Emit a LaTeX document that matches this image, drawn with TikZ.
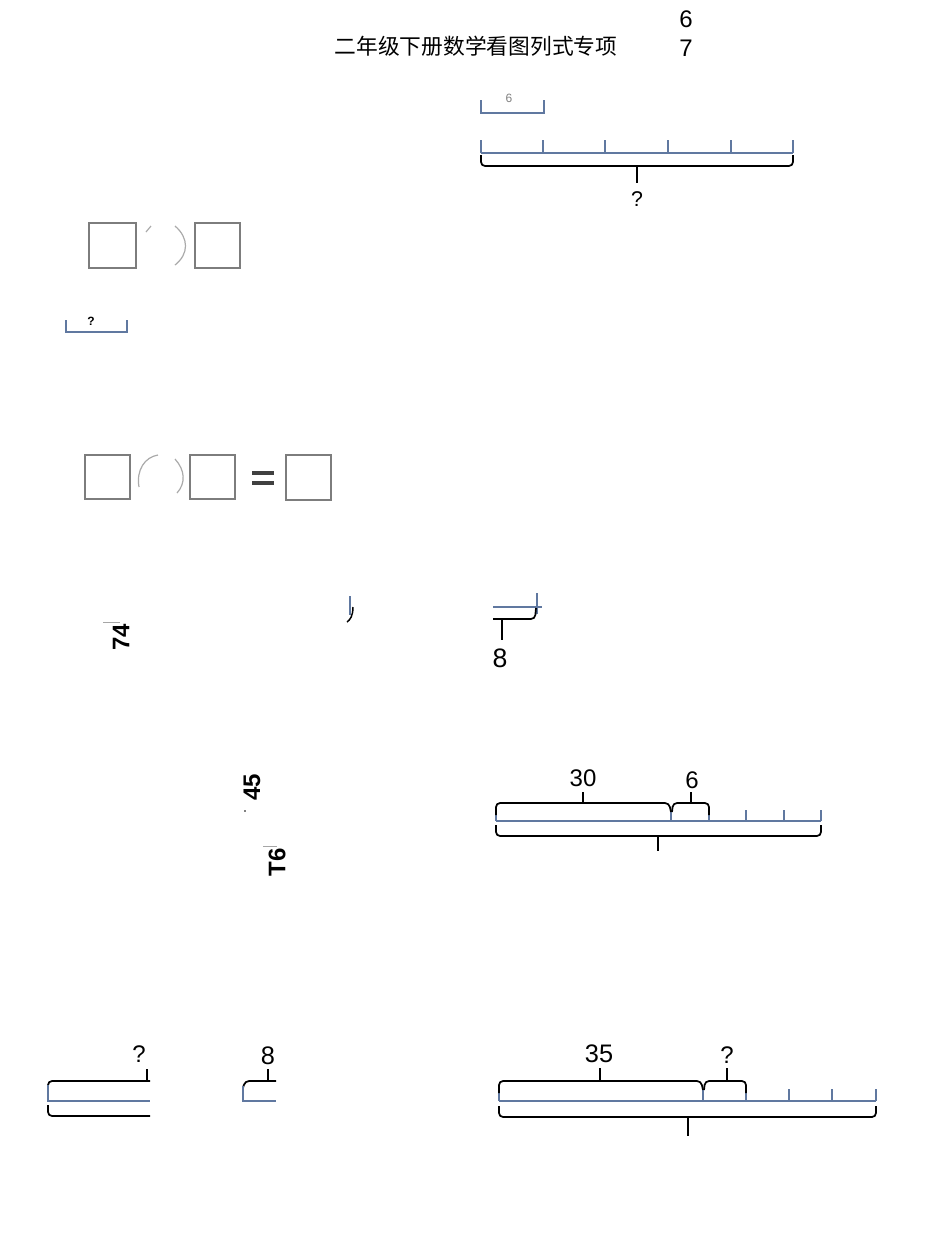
\documentclass[tikz,border=0pt]{standalone}
\usepackage{fontspec}
\setmainfont{Liberation Sans}
\newfontfamily\cjk{Noto Sans CJK SC}
\definecolor{barblue}{RGB}{96,120,160}
\definecolor{boxgrey}{RGB}{125,125,125}
\definecolor{arcgrey}{RGB}{170,170,170}
\begin{document}
\begin{tikzpicture}[x=0.75pt,y=-0.75pt,
  bar/.style={draw=barblue,line width=1.3pt},
  brace/.style={draw=black,line width=1.3pt,rounded corners=3pt},
  box/.style={draw=boxgrey,line width=1pt},
  arcline/.style={draw=arcgrey,line width=0.9pt},
  lbl/.style={font=\fontsize{18}{18}\selectfont,inner sep=0pt},
  rot/.style={font=\bfseries\fontsize{18}{18}\selectfont,inner sep=0pt,rotate=90}]
\useasboundingbox[fill=white] (0,0) rectangle (950,1239);

% header
\node[font=\cjk\fontsize{16.3}{16.3}\selectfont,inner sep=0pt] (title) at (476,46) {二年级下册数学看图列式专项};
\node[lbl,font=\fontsize{18}{18}\selectfont] (six) at (686,19) {6};
\node[lbl,font=\fontsize{18}{18}\selectfont] (seven) at (686,48) {7};

% diagram 1
\draw[bar,line width=1.1pt] (481,100) -- (481,113) -- (544,113) -- (544,100);
\node[inner sep=0pt,text=gray,font=\fontsize{9}{9}\selectfont] (l6) at (509,98) {6};
\draw[bar] (481,153) -- (793,153);
\foreach \x in {481,543,605,668,731,793} \draw[bar] (\x,140) -- (\x,153);
\draw[brace] (481,155) -- (481,166) -- (793,166) -- (793,155);
\draw[brace,rounded corners=0pt] (637,166) -- (637,183);
\node[lbl,font=\fontsize{16}{16}\selectfont] (q1) at (637,199) {?};

% equation row 1
\draw[box] (89,223) rectangle (136,268);
\draw[arcline] (146,232) -- (151,226);
\draw[arcline] (175,226) .. controls (189,238) and (189,254) .. (175,265);
\draw[box] (195,223) rectangle (240,268);

% small bracket ?
\draw[bar,line width=1.1pt] (66,320) -- (66,332) -- (127,332) -- (127,320);
\node[inner sep=0pt,font=\bfseries\fontsize{9}{9}\selectfont] (q2) at (91,321) {?};

% equation row 2
\draw[box] (85,455) rectangle (130,499);
\draw[arcline] (139,487) .. controls (136,470) and (145,457) .. (158,455);
\draw[arcline] (175,459) .. controls (185,470) and (186,483) .. (177,493);
\draw[box] (190,455) rectangle (235,499);
\draw[line width=3pt,draw=black!75] (252,472.5) -- (274,472.5) (252,482.5) -- (274,482.5);
\draw[box] (286,455) rectangle (331,500);

% fragments row 3
\draw[draw=gray!70,line width=0.6pt] (103,622) -- (120,622);
\node[rot] (n74) at (121,637) {74};
\draw[bar,line width=1.1pt] (350,596) -- (350,615);
\draw[brace,line width=1.1pt] (353,607) .. controls (353,616) and (350,620) .. (347,622);
\draw[bar] (493,607) -- (542,607);
\draw[bar] (537,593) -- (537,614);
\draw[brace] (493,619) -- (535,619) -- (536,608);
\draw[brace,rounded corners=0pt] (502,619) -- (502,640);
\node[lbl,font=\fontsize{20}{20}\selectfont] (l8a) at (500,658) {8};

% fragments row 4
\node[rot] (n45) at (252,787) {45};
\fill (245,811) circle (0.9);
\draw[draw=gray!70,line width=0.6pt] (263,846) -- (277,846);
\node[rot] (nT6) at (277,862) {T6};

% diagram 30 / 6
\draw[bar] (496,821) -- (821,821);
\foreach \x in {496,671,709,746,784,821} \draw[bar] (\x,810) -- (\x,821);
\draw[brace] (496,815) -- (496,803) -- (669,803) -- (671,812);
\draw[brace] (672,812) -- (673,803) -- (709,803) -- (709,815);
\draw[brace,rounded corners=0pt] (583,803) -- (583,792);
\draw[brace,rounded corners=0pt] (691,803) -- (691,792);
\node[lbl] (l30) at (583,778) {30};
\node[lbl] (l6b) at (692,780) {6};
\draw[brace] (496,825) -- (496,836) -- (821,836) -- (821,825);
\draw[brace,rounded corners=0pt] (658,836) -- (658,851);

% bottom left fragments
\draw[brace] (48,1089) -- (48,1081) -- (150,1081);
\draw[brace,rounded corners=0pt] (147,1081) -- (147,1069);
\node[lbl] (q3) at (139,1054) {?};
\draw[bar] (48,1085) -- (48,1101) -- (150,1101);
\draw[brace] (48,1105) -- (48,1116) -- (150,1116);
\draw[brace] (243,1088) -- (245,1081) -- (276,1081);
\draw[brace,rounded corners=0pt] (268,1081) -- (268,1069);
\node[lbl,font=\fontsize{19}{19}\selectfont] (l8b) at (268,1056) {8};
\draw[bar] (243,1086) -- (243,1101) -- (276,1101);

% diagram 35 / ?
\draw[bar] (499,1101) -- (876,1101);
\foreach \x in {499,703,746,789,832,876} \draw[bar] (\x,1089) -- (\x,1101);
\draw[brace] (499,1093) -- (499,1081) -- (701,1081) -- (703,1090);
\draw[brace] (704,1090) -- (705,1081) -- (746,1081) -- (746,1093);
\draw[brace,rounded corners=0pt] (600,1081) -- (600,1068);
\draw[brace,rounded corners=0pt] (727,1081) -- (727,1068);
\node[lbl,font=\fontsize{19}{19}\selectfont] (l35) at (599,1054) {35};
\node[lbl] (q4) at (727,1055) {?};
\draw[brace] (499,1106) -- (499,1117) -- (876,1117) -- (876,1106);
\draw[brace,rounded corners=0pt] (688,1117) -- (688,1136);
\end{tikzpicture}
\end{document}
